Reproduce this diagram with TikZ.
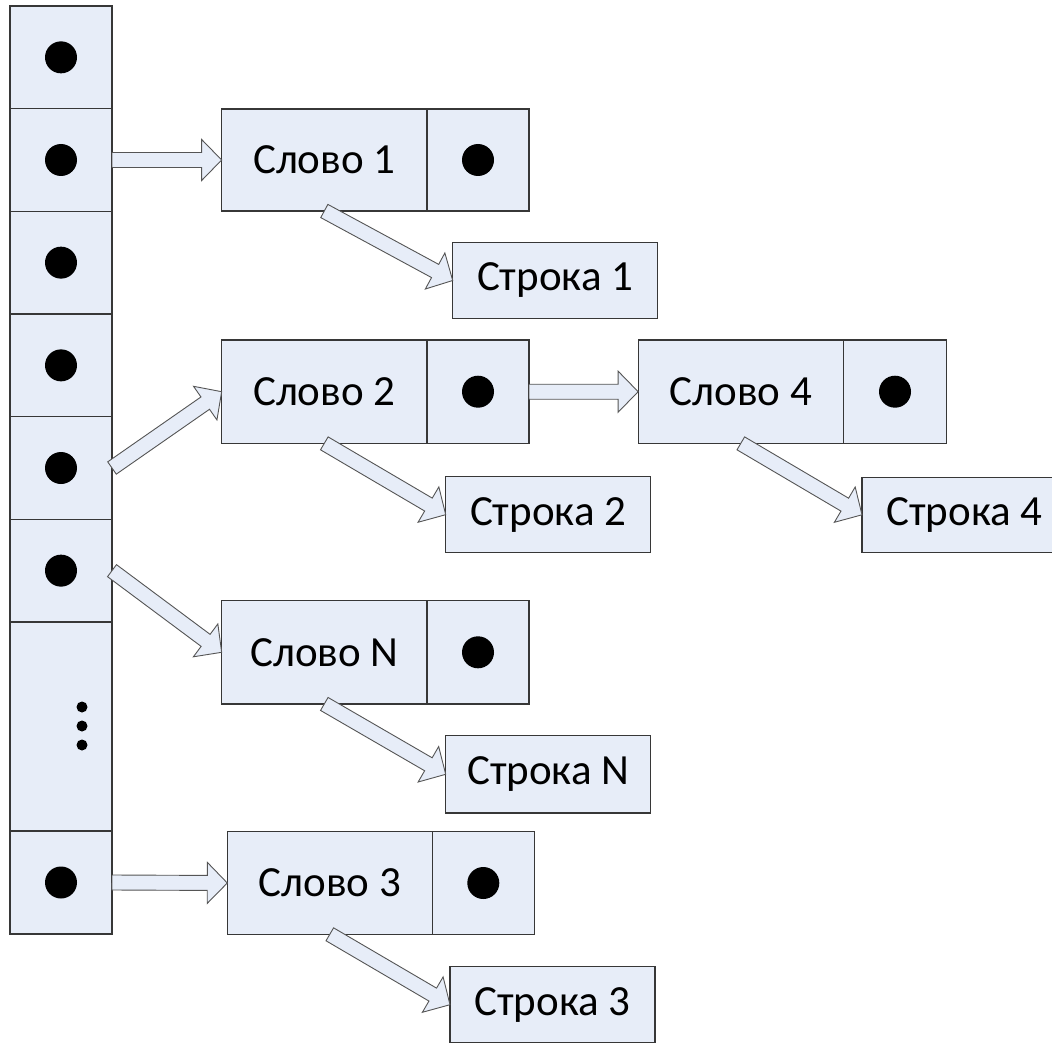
\documentclass[tikz,border=0pt]{standalone}
\usepackage{fontspec}
\setmainfont{Carlito}
\usetikzlibrary{calc}
\definecolor{boxfill}{RGB}{231,237,248}
\definecolor{boxline}{RGB}{55,55,55}
\definecolor{arrline}{RGB}{85,85,85}
\tikzset{
  cellbox/.style 2 args={draw=boxline, fill=boxfill, line width=1.2pt,
    inner sep=0pt, outer sep=0pt, minimum width=#1, minimum height=#2,
    font=\fontsize{43}{51}\selectfont},
  bigdot/.style={circle, fill=black, inner sep=0pt, outer sep=0pt, minimum size=32pt},
  smalldot/.style={circle, fill=black, inner sep=0pt, outer sep=0pt, minimum size=11pt},
  blockarr/.style={draw=arrline, fill=boxfill, line width=0.9pt, line join=miter}
}
\newcommand\blkarrow[2]{%
  \coordinate (baS) at (#1);
  \coordinate (baE) at (#2);
  \coordinate (baH) at ($(baE)!20pt!(baS)$);
  \draw[blockarr] ($(baS)!7.5pt!90:(baE)$) -- ($(baH)!7.5pt!-90:(baS)$)
    -- ($(baH)!20.5pt!-90:(baS)$) -- (baE) -- ($(baH)!20.5pt!90:(baS)$)
    -- ($(baH)!7.5pt!90:(baS)$) -- ($(baS)!7.5pt!-90:(baE)$) -- cycle;
}
\begin{document}
\begin{tikzpicture}[x=1pt, y=-1pt]
\useasboundingbox (0,0) rectangle (1052,1043);

% column of cells
\node[cellbox={102pt}{102.7pt}] (c1) at (61,57.35) {};
\node[cellbox={102pt}{102.7pt}] (c2) at (61,160) {};
\node[cellbox={102pt}{102.7pt}] (c3) at (61,262.65) {};
\node[cellbox={102pt}{102.7pt}] (c4) at (61,365.35) {};
\node[cellbox={102pt}{102.7pt}] (c5) at (61,468) {};
\node[cellbox={102pt}{102.7pt}] (c6) at (61,570.65) {};
\node[cellbox={102pt}{209pt}] (c7) at (61,726.5) {};
\node[cellbox={102pt}{103pt}] (c8) at (61,882.5) {};
\node[bigdot] (d1) at (c1.center) {};
\node[bigdot] (d2) at (c2.center) {};
\node[bigdot] (d3) at (c3.center) {};
\node[bigdot] (d4) at (c4.center) {};
\node[bigdot] (d5) at (c5.center) {};
\node[bigdot] (d6) at (c6.center) {};
\node[bigdot] (d8) at (c8.center) {};
\node[smalldot] (e1) at (82,707) {};
\node[smalldot] (e2) at (82,726) {};
\node[smalldot] (e3) at (82,745) {};

% word boxes
\node[cellbox={205.3pt}{102pt}] (w1) at (324.3,160) {Слово 1};
\node[cellbox={102pt}{102pt}] (w1p) at (478,160) {};
\node[cellbox={205.3pt}{103.3pt}] (w2) at (324.3,391.7) {Слово 2};
\node[cellbox={102pt}{103.3pt}] (w2p) at (478,391.7) {};
\node[cellbox={205.3pt}{103.3pt}] (w4) at (740.8,391.7) {Слово 4};
\node[cellbox={103.4pt}{103.3pt}] (w4p) at (895,391.7) {};
\node[cellbox={205.3pt}{103.3pt}] (wn) at (324.3,652.3) {Слово N};
\node[cellbox={102pt}{103.3pt}] (wnp) at (478,652.3) {};
\node[cellbox={205pt}{102.6pt}] (w3) at (329.8,883) {Слово 3};
\node[cellbox={102pt}{102.6pt}] (w3p) at (483.3,883) {};
\node[bigdot] (p1) at (w1p.center) {};
\node[bigdot] (p2) at (w2p.center) {};
\node[bigdot] (p4) at (w4p.center) {};
\node[bigdot] (pn) at (wnp.center) {};
\node[bigdot] (p3) at (w3p.center) {};

% string boxes
\node[cellbox={205pt}{75.6pt}] (s1) at (555.2,280.5) {Строка 1};
\node[cellbox={205pt}{76pt}] (s2) at (548.2,514.7) {Строка 2};
\node[cellbox={205pt}{75pt}] (s4) at (964.5,514.8) {Строка 4};
\node[cellbox={205pt}{77.3pt}] (sn) at (548.2,774.3) {Строка N};
\node[cellbox={205pt}{76pt}] (s3) at (552.5,1004.7) {Строка 3};

% connectors
\blkarrow{c2.east}{w1.west}
\blkarrow{c5.east}{w2.west}
\blkarrow{c6.east}{wn.west}
\blkarrow{c8.east}{w3.west}
\blkarrow{w2p.east}{w4.west}
\blkarrow{w1.south}{s1.west}
\blkarrow{w2.south}{s2.west}
\blkarrow{w4.south}{s4.west}
\blkarrow{wn.south}{sn.west}
\blkarrow{w3.south}{s3.west}
\end{tikzpicture}
\end{document}
